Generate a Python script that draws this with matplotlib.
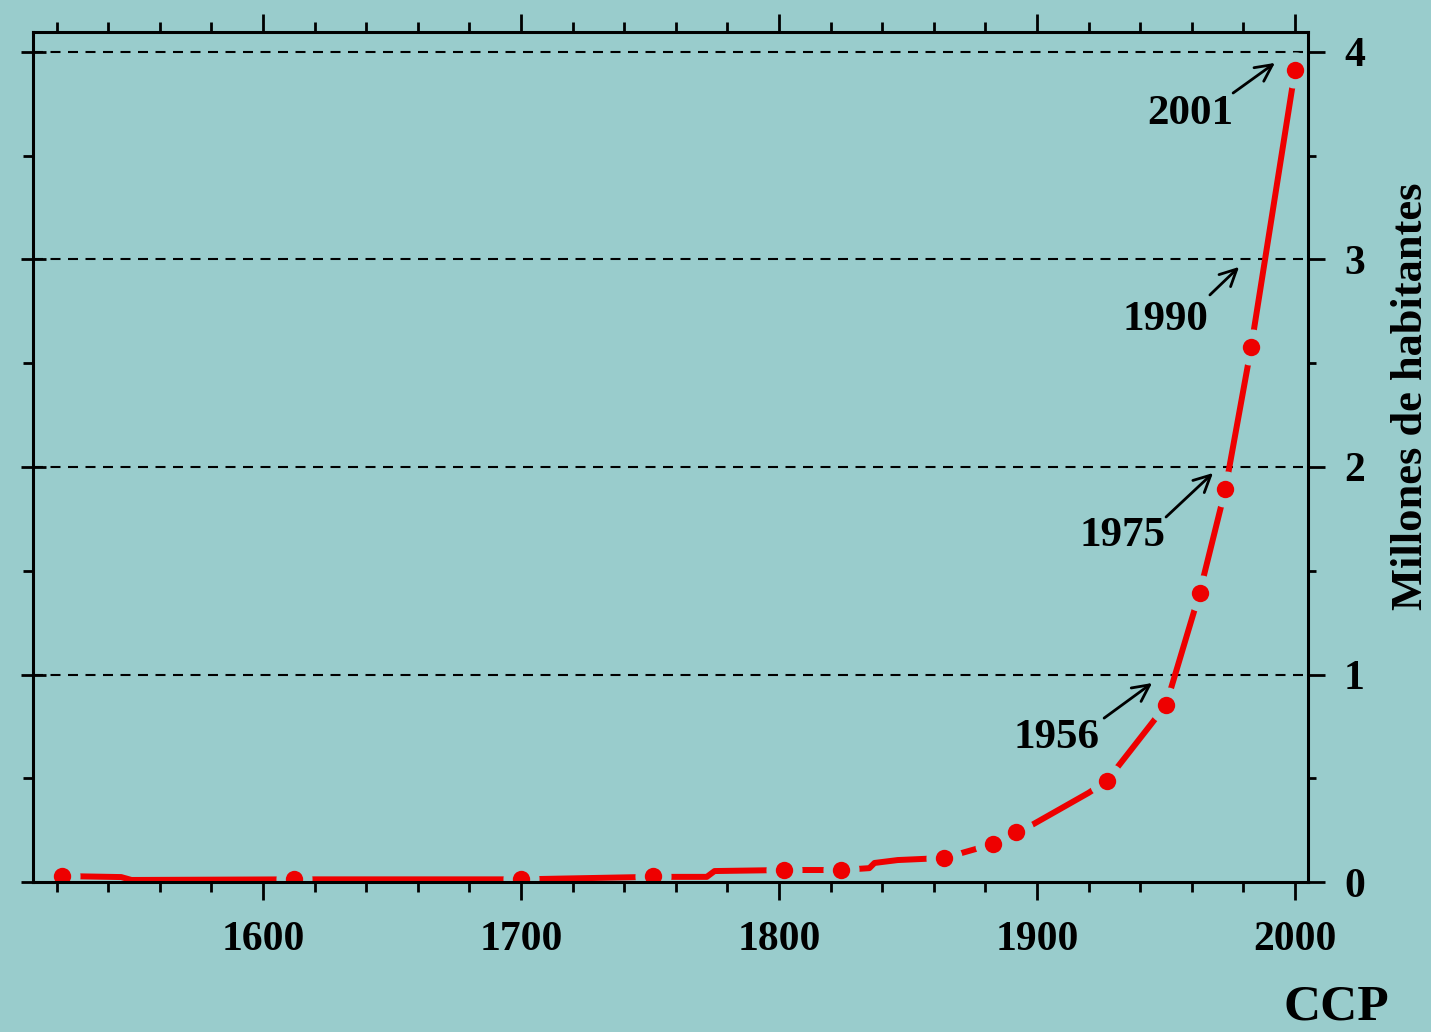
import matplotlib
matplotlib.use('Agg')
import matplotlib.pyplot as plt
from matplotlib.ticker import MultipleLocator

plt.rcParams['font.family'] = ['Liberation Serif', 'DejaVu Serif']
plt.rcParams['font.weight'] = 'bold'

# census points (year, millions)
anios = [1522, 1612, 1700, 1751, 1802, 1824, 1864, 1883, 1892, 1927, 1950, 1963, 1973, 1983, 2000]
poblacion = [0.029, 0.013, 0.013, 0.029, 0.058, 0.058, 0.116, 0.183, 0.241, 0.487, 0.853, 1.393, 1.894, 2.578, 3.913]

# curve drawn between the points
curva_anios = [1522, 1545, 1549, 1612, 1700, 1751, 1772, 1775, 1802, 1824, 1835, 1837,
               1846, 1864, 1883, 1892, 1898, 1920, 1927, 1950, 1963, 1973, 1983, 2000]
curva_pob = [0.029, 0.024, 0.010, 0.013, 0.013, 0.025, 0.025, 0.053, 0.058, 0.058, 0.067, 0.092,
             0.106, 0.116, 0.183, 0.241, 0.275, 0.43, 0.487, 0.853, 1.393, 1.894, 2.578, 3.913]

# labels, arrow tails and tips
etiquetas = ['2001', '1990', '1975', '1956']
texto_xy = [(1976.0, 3.653), (1966.3, 2.660), (1949.6, 1.619), (1924.4, 0.646)]
flecha_desde = [(1976.0, 3.802), (1967.0, 2.829), (1950.0, 1.759), (1926.0, 0.790)]
flecha_hasta = [(1992.2, 3.947), (1978.3, 2.964), (1968.2, 1.971), (1944.6, 0.959)]

fondo = '#99cccc'
rojo = '#ee0000'

fig = plt.figure(figsize=(14.31, 10.32), dpi=100, facecolor=fondo)
ax = fig.add_axes([0.0231, 0.1453, 0.8909, 0.8237])
ax.set_facecolor(fondo)
ax.set_xlim(1510.85, 2005.0)
ax.set_ylim(0, 4.096)

for s in ax.spines.values():
    s.set_linewidth(2.2)
    s.set_zorder(7)

# dashed reference lines
for v in [1, 2, 3, 4]:
    ax.axhline(v, color='black', lw=1.5, linestyle=(0, (4.8, 3.6)), zorder=1)

ax.plot(curva_anios, curva_pob, color=rojo, lw=4.3, zorder=3, solid_capstyle='butt')
# background-coloured halo cuts the curve around each point
ax.plot(anios, poblacion, 'o', ms=12, mfc=fondo, mec=fondo, mew=14, zorder=4, antialiased=False)
ax.plot(anios, poblacion, 'o', ms=12.5, mfc=rojo, mec=rojo, mew=0, zorder=5)

for txt, pos, a, b in zip(etiquetas, texto_xy, flecha_desde, flecha_hasta):
    ax.text(pos[0], pos[1], txt, fontsize=31, fontweight='bold', ha='right', va='baseline', zorder=6)
    ax.annotate('', xy=b, xytext=a,
                arrowprops=dict(arrowstyle='->,head_length=0.6,head_width=0.3', lw=2,
                                color='black', shrinkA=0, shrinkB=0, mutation_scale=20), zorder=6)

# x ticks bottom and top
ax.xaxis.set_major_locator(MultipleLocator(100))
ax.xaxis.set_minor_locator(MultipleLocator(20))
ax.tick_params(axis='x', which='both', direction='out', top=True, bottom=True, width=2, labelsize=30, pad=15)
ax.tick_params(axis='x', which='major', length=13)
ax.tick_params(axis='x', which='minor', length=7)
ax.set_xticks([1600, 1700, 1800, 1900, 2000])

# y ticks left (crossing spine), no labels
ax.yaxis.set_major_locator(MultipleLocator(1))
ax.yaxis.set_minor_locator(MultipleLocator(0.5))
ax.tick_params(axis='y', which='major', direction='inout', length=18, width=2, left=True, right=False, labelleft=False)
ax.tick_params(axis='y', which='minor', direction='out', length=7, width=2, left=True, right=False)

# right side ticks with labels
ax2 = ax.twinx()
ax2.set_ylim(0, 4.096)
ax2.yaxis.set_major_locator(MultipleLocator(1))
ax2.yaxis.set_minor_locator(MultipleLocator(0.5))
ax2.tick_params(axis='y', which='major', direction='out', length=12, width=2, labelsize=30, pad=14)
ax2.tick_params(axis='y', which='minor', direction='out', length=6, width=2)
for s in ax2.spines.values():
    s.set_visible(False)

fig.text(1411 / 1431, 1 - 396 / 1032, 'Millones de habitantes', rotation=90, fontsize=32,
         fontweight='bold', ha='center', va='center')
fig.text(1336 / 1431, 1 - 1020 / 1032, 'CCP', fontsize=37, fontweight='bold', ha='center', va='baseline')

fig.savefig('out.png', dpi=100, facecolor=fondo)
